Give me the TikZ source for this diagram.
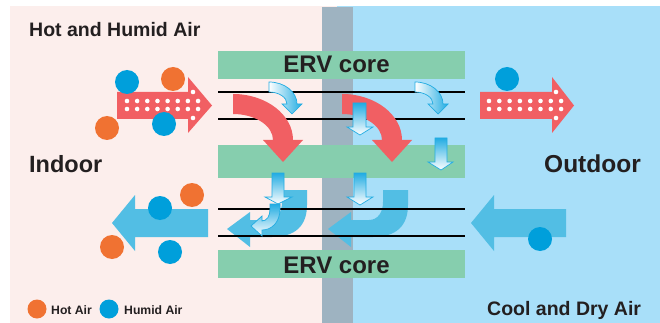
\documentclass[tikz,border=0pt]{standalone}
\usepackage{fontspec}
\setmainfont{Liberation Sans}
\definecolor{pinkbg}{HTML}{FCEEEC}
\definecolor{bluebg}{HTML}{A8DFF9}
\definecolor{grayband}{HTML}{9EB3C1}
\definecolor{ervgreen}{HTML}{86CEAE}
\definecolor{redarrow}{HTML}{F15F63}
\definecolor{hotc}{HTML}{F07232}
\definecolor{humidc}{HTML}{009FDB}
\definecolor{coolarrow}{HTML}{52BEE4}
\definecolor{gradblue}{HTML}{22ACE2}
\definecolor{txt}{HTML}{231F20}
\begin{document}
\begin{tikzpicture}[x=1pt,y=-1pt,
  lbl/.style={inner sep=0pt,text=txt,font=\bfseries},
  ervbar/.style={fill=ervgreen,draw=none},
  coreline/.style={draw=black,line width=1.6pt},
  redarr/.style={fill=redarrow,draw=none},
  bluearr/.style={fill=coolarrow,draw=none},
  gradv/.style={top color=gradblue,bottom color=white,draw=gradblue,line width=0.7pt},
  gradh/.style={left color=white,right color=gradblue,draw=gradblue,line width=0.7pt},
  hot/.style={fill=hotc,draw=none},
  humid/.style={fill=humidc,draw=none},
  wdot/.style={fill=white,draw=none}]
\useasboundingbox (0,0) rectangle (660,323);
% backgrounds
\fill[pinkbg] (10,6) rectangle (337,323);
\fill[bluebg] (337,6) rectangle (660,323);
\fill[grayband] (322,7) rectangle (353,323);
% ERV bars
\fill[ervbar] (218,51) rectangle (465,79);
\fill[ervbar] (218,145) rectangle (465,178);
\fill[ervbar] (218,250) rectangle (465,278);
\node[lbl,font=\bfseries\fontsize{24}{24}\selectfont,anchor=base] (erv1) at (336.5,73) {ERV core};
\node[lbl,font=\bfseries\fontsize{24}{24}\selectfont,anchor=base] (erv2) at (336.5,273) {ERV core};
% big blue lower curved arrows
\foreach \dx in {0,101}{
\fill[bluearr,shift={(282+\dx,190)}] (0,0) -- (25,0) -- (25,15) .. controls (25,36) and (13,47) .. (-10,47) -- (-32,47) -- (-32,57) -- (-55,39) -- (-32,22) -- (-32,30) -- (-14,30) .. controls (-5,30) and (0,22) .. (0,12) -- cycle;
}
% core lines
\draw[coreline] (218,92) -- (465,92);
\draw[coreline] (218,119) -- (465,119);
\draw[coreline] (218,209) -- (465,209);
\draw[coreline] (218,236) -- (465,236);
% red curved arrows
\foreach \dx in {0,109}{
\fill[redarr,shift={(233+\dx,94)}] (0,0) .. controls (33,0) and (60,20.6) .. (60,46) -- (70,46) -- (50,68) -- (30,46) -- (40,46) .. controls (40,31.6) and (22,20) .. (0,20) -- cycle;
}
% gradient hooked arrows (top)
\foreach \dx in {0,146}{
\shadedraw[gradh,shift={(269+\dx,82)}] (0,0) .. controls (15.5,0) and (28,9.9) .. (28,22) -- (33,22) -- (23,32) -- (13,22) -- (18,22) .. controls (18,15.4) and (9.9,10) .. (0,10) -- cycle;
}
% gradient straight arrows
\shadedraw[gradv] (353,103) -- (366,103) -- (366,127) -- (373,127) -- (360,135) -- (347,127) -- (353,127) -- cycle;
\shadedraw[gradv] (435,138) -- (447,138) -- (447,162) -- (453,162) -- (441,170) -- (428,162) -- (435,162) -- cycle;
\shadedraw[gradv] (272,173) -- (284,173) -- (284,197) -- (292,197) -- (278,204) -- (265,197) -- (272,197) -- cycle;
\shadedraw[gradv] (354,173) -- (366,173) -- (366,197) -- (373,197) -- (360,205) -- (347,197) -- (354,197) -- cycle;
% lower hooked gradient arrow
\shadedraw[gradv] (270,204) -- (280,204) -- (280,209) .. controls (280,222) and (272,230) .. (262,230) -- (262,236) -- (251,226) -- (262,216) -- (262,221) .. controls (267,221) and (270,216) .. (270,209) -- cycle;
% big side arrows
\fill[redarr] (117,92) -- (188,92) -- (188,77) -- (212,105.5) -- (188,133) -- (188,119) -- (117,119) -- cycle;
\fill[redarr] (480,92) -- (552,92) -- (552,77) -- (574,105.5) -- (552,133) -- (552,119) -- (480,119) -- cycle;
\foreach \i in {0,...,7}{
  \fill[wdot] (127+10.15*\i,101) circle (2.3);
  \fill[wdot] (127+10.15*\i,109) circle (2.3);
  \fill[wdot] (489+10.3*\i,101) circle (2.3);
  \fill[wdot] (489+10.3*\i,109) circle (2.3);
}
\fill[wdot] (193,92) circle (2.3);
\fill[wdot] (193,118) circle (2.3);
\fill[wdot] (556,92) circle (2.3);
\fill[wdot] (556,118) circle (2.3);
\fill[bluearr] (208,209) -- (135,209) -- (135,195) -- (112,223) -- (135,251) -- (135,237) -- (208,237) -- cycle;
\fill[bluearr] (566,209) -- (494,209) -- (494,195) -- (471,223) -- (494,251) -- (494,237) -- (566,237) -- cycle;
% particles
\fill[humid] (127,82) circle (12);
\fill[hot] (173,79) circle (12);
\fill[hot] (107,128) circle (12);
\fill[humid] (164,124) circle (12);
\fill[humid] (507,79) circle (12);
\fill[hot] (192,195) circle (12);
\fill[humid] (160,208) circle (12);
\fill[hot] (112,247) circle (12);
\fill[humid] (170,252) circle (12);
\fill[humid] (540,239) circle (12);
% labels
\node[lbl,font=\bfseries\fontsize{19.5}{19.5}\selectfont,anchor=base west] (hh) at (29,37) {Hot and Humid Air};
\node[lbl,font=\bfseries\fontsize{23.5}{23.5}\selectfont,anchor=base west] (indoor) at (29,172) {Indoor};
\node[lbl,font=\bfseries\fontsize{24.5}{24.5}\selectfont,anchor=base east] (outdoor) at (641,172) {Outdoor};
\node[lbl,font=\bfseries\fontsize{19.5}{19.5}\selectfont,anchor=base west] (cd) at (487,315) {Cool and Dry Air};
% legend
\fill[hot] (37,309) circle (9.5);
\node[lbl,font=\bfseries\fontsize{12.2}{12.2}\selectfont,anchor=base west] (lhot) at (51,314) {Hot Air};
\fill[humid] (109,309) circle (9.5);
\node[lbl,font=\bfseries\fontsize{12.2}{12.2}\selectfont,anchor=base west] (lhum) at (124,314) {Humid Air};
\end{tikzpicture}
\end{document}
